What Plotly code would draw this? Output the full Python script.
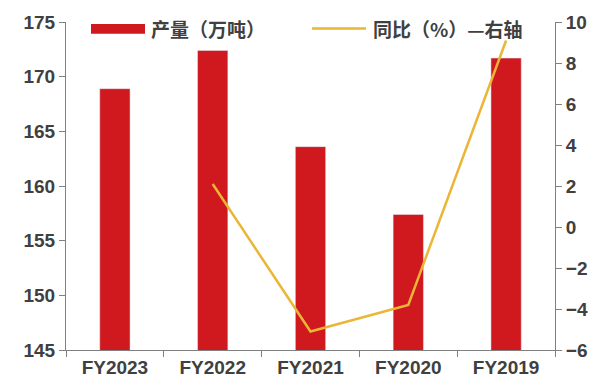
import plotly.graph_objects as go

categories = ["FY2023", "FY2022", "FY2021", "FY2020", "FY2019"]
output_wt = [168.9, 172.4, 163.6, 157.4, 171.7]
yoy_pct = [None, 2.1, -5.1, -3.8, 9.1]
bar_name = "产量（万吨）"
line_name = "同比（%）—右轴"

RED = "#D0181F"
YEL = "#EBB535"
TXT = "#404040"
AX = "#808080"

fig = go.Figure()
fig.add_trace(go.Bar(x=categories, y=output_wt, name=bar_name, marker_color=RED,
                     width=0.31, showlegend=False))
fig.add_trace(go.Scatter(x=categories, y=yoy_pct, name=line_name, yaxis="y2",
                         mode="lines", line=dict(color=YEL, width=2.5),
                         connectgaps=False, showlegend=False))

tickfont = dict(family="Liberation Sans, Arial", size=19, color=TXT, weight="bold")
fig.update_layout(
    width=603, height=390,
    margin=dict(l=66, r=48, t=22, b=36),
    paper_bgcolor="white", plot_bgcolor="white",
    bargap=0.69,
    xaxis=dict(type="category", tickson="boundaries", ticks="outside", ticklen=6,
               tickcolor=AX, showline=True, linecolor=AX, linewidth=1,
               showgrid=False, tickfont=tickfont),
    yaxis=dict(range=[145, 175], dtick=5, ticks="outside", ticklen=6, tickcolor=AX,
               showline=True, linecolor=AX, linewidth=1, showgrid=False,
               zeroline=False, tickfont=tickfont),
    yaxis2=dict(range=[-6, 10], dtick=2, overlaying="y", side="right",
                ticks="outside", ticklen=6, tickcolor=AX, showline=True,
                linecolor=AX, linewidth=1, showgrid=False, zeroline=False,
                tickfont=tickfont),
)

# manual legend
W, H = 603, 390
def px(x):
    return (x - 66) / (W - 66 - 48)
def py(y):
    return 1 - (y - 22) / (H - 22 - 36)

legfont = dict(family="Noto Sans CJK SC", size=19, color=TXT, weight="bold")
fig.add_shape(type="rect", xref="paper", yref="paper",
              x0=px(91), x1=px(145), y0=py(34), y1=py(24),
              fillcolor=RED, line=dict(width=0))
fig.add_annotation(xref="paper", yref="paper", x=px(149), y=py(29),
                   xanchor="left", yanchor="middle", showarrow=False,
                   text=bar_name, font=legfont)
fig.add_shape(type="line", xref="paper", yref="paper",
              x0=px(312), x1=px(366), y0=py(28.5), y1=py(28.5),
              line=dict(color=YEL, width=2.5))
fig.add_annotation(xref="paper", yref="paper", x=px(371), y=py(29),
                   xanchor="left", yanchor="middle", showarrow=False,
                   text=line_name, font=legfont)

fig.write_html("out.html")
